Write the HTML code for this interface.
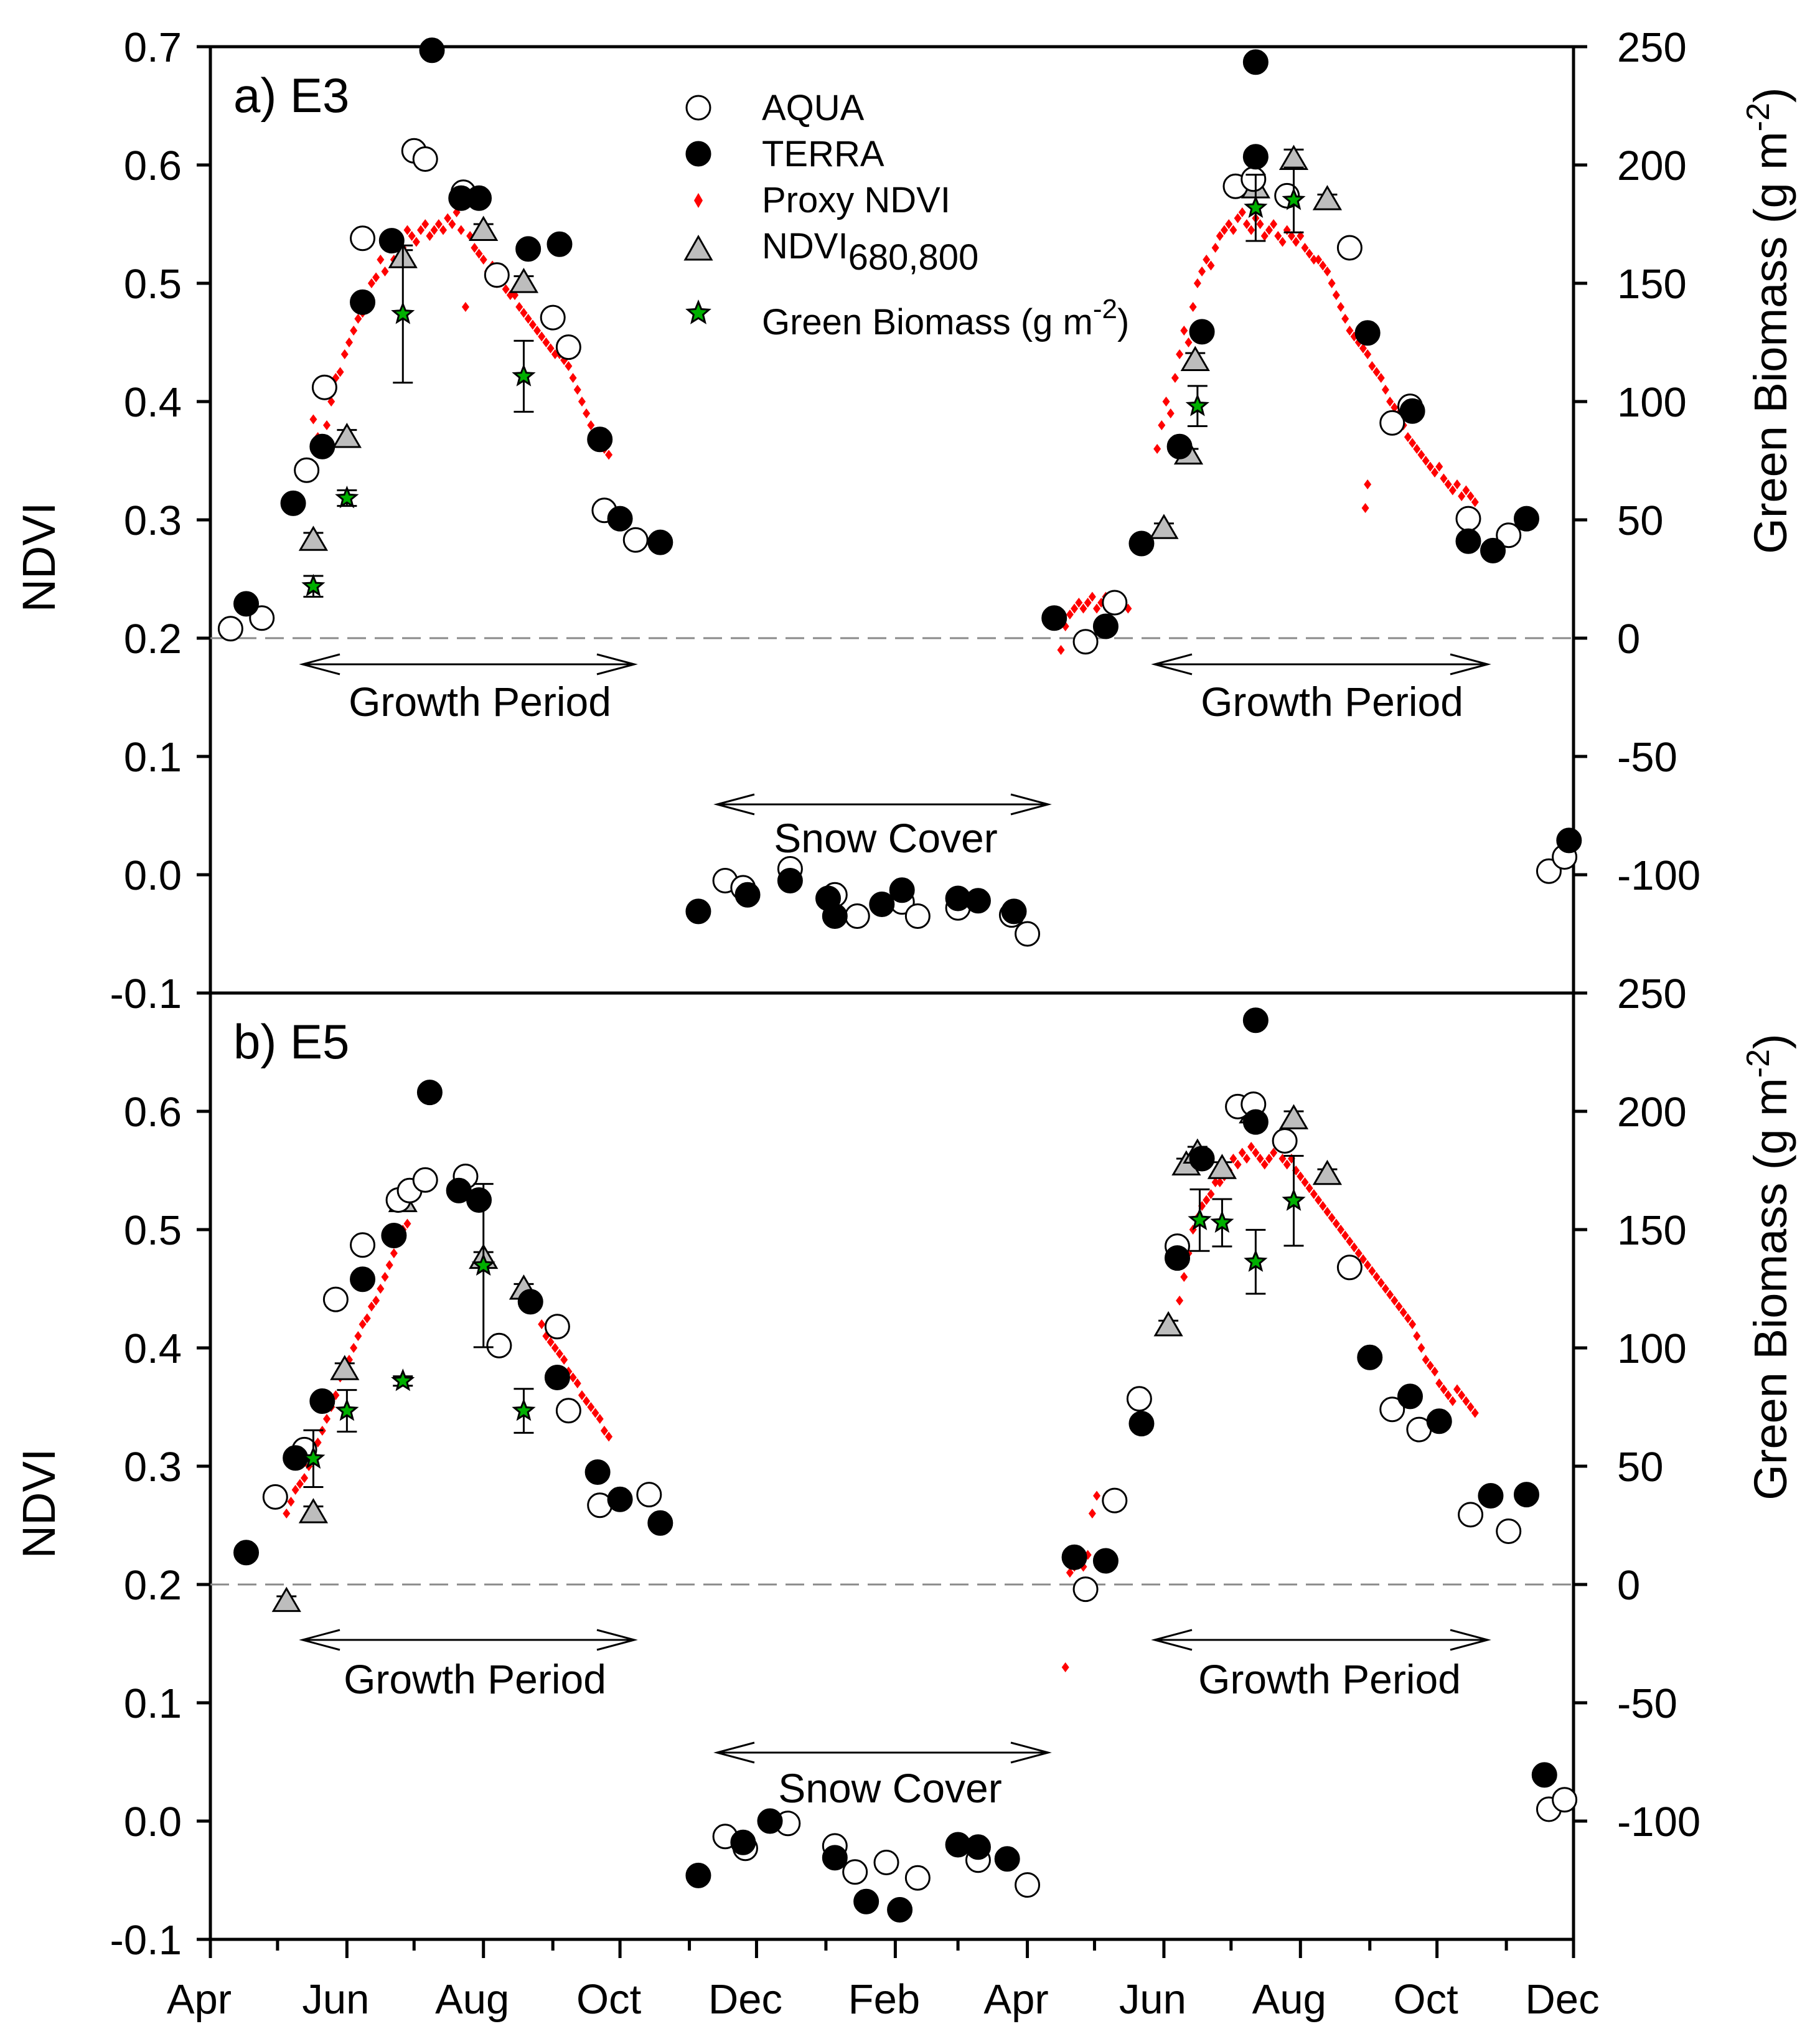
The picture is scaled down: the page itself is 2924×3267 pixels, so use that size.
<!DOCTYPE html>
<html><head><meta charset="utf-8"><style>
html,body{margin:0;padding:0;background:#fff}
svg{display:block;font-family:"Liberation Sans",Arial,sans-serif}
</style></head><body>
<svg id="chart" xmlns="http://www.w3.org/2000/svg" width="2924" height="3267" viewBox="0 0 2924 3267">
<rect width="2924" height="3267" fill="#fff"/>
<g id="frames"></g>
<g id="marks"></g>
<g id="annot"></g>
</svg>
<script>
// ---------- data (x = days since Apr 1 of year 1, y = NDVI, biomass in g m-2) ----------
const monthDays = [0,30,61,91,122,153,183,214,244,275,306,334,365,395,426,456,487,518,548,579,609];
const monthLabels = ["Apr","","Jun","","Aug","","Oct","","Dec","","Feb","","Apr","","Jun","","Aug","","Oct","","Dec"];
const ndviTicks = [0.7,0.6,0.5,0.4,0.3,0.2,0.1,0.0,-0.1];
const ndviTickLabels = ["0.7","0.6","0.5","0.4","0.3","0.2","0.1","0.0","-0.1"];
const bioTicks = [250,200,150,100,50,0,-50,-100];

// Panel a (E3)
const aAquaDay = [9,23,43,51,68,91,96,113,128,153,160,176,190,391,404,458,466,481,509,528,536,562,580,598,605,230,238,259,279,289,309,316,334,358,365];
const aAquaVal = [0.208,0.217,0.342,0.412,0.538,0.612,0.605,0.577,0.507,0.471,0.446,0.308,0.283,0.197,0.230,0.582,0.588,0.574,0.530,0.382,0.396,0.301,0.287,0.003,0.015,-0.005,-0.011,0.005,-0.017,-0.035,-0.023,-0.035,-0.028,-0.034,-0.050];
const aTerraDay = [16,37,50,68,81,99,112,120,142,156,174,183,201,377,400,416,433,443,467,467,517,537,562,573,588,607,218,240,259,276,279,300,309,334,343,359];
const aTerraVal = [0.229,0.314,0.362,0.484,0.536,0.697,0.572,0.572,0.529,0.533,0.368,0.301,0.281,0.217,0.210,0.280,0.362,0.459,0.687,0.607,0.458,0.392,0.282,0.274,0.301,0.029,-0.031,-0.017,-0.005,-0.020,-0.035,-0.025,-0.013,-0.020,-0.022,-0.031];
const aTriDay = [46,61,86,122,140,426,437,440,467,484,499];
const aTriVal = [0.283,0.370,0.522,0.545,0.501,0.293,0.356,0.435,0.581,0.605,0.571];
const aTriErr = [0.006,0.006,0.006,0.005,0.005,0.004,0.004,0.006,0.006,0.008,0.004];
const aBioDay = [46,61,86,140,441,467,484];
const aBioVal = [21.9,59.2,137,110.7,98.1,181.9,185.2];
const aBioErr = [4.4,3.3,29,15,8.5,14,13.7];
const aProxyDay = [46,48,50,52,54,56,58,60,62,64,66,68,70,72,74,76,78,80,82,84,86,88,90,92,94,96,98,100,102,104,106,108,110,112,114,116,118,120,122,124,126,128,130,132,134,136,138,140,142,144,146,148,150,152,154,156,158,160,162,164,166,168,170,172,174,176,178,
380,382,384,386,388,390,392,394,396,398,400,402,404,406,408,410,423,425,427,429,431,433,435,437,439,441,443,445,447,449,451,453,455,457,459,461,463,465,467,469,471,473,475,477,479,481,483,485,487,489,491,493,495,497,499,501,503,505,507,509,511,513,515,517,519,521,523,525,527,529,531,533,535,537,539,541,543,545,547,549,551,553,555,557,559,561,563,565,516,517];
const aProxyVal = [0.385,0.37,0.36,0.38,0.40,0.42,0.425,0.44,0.45,0.46,0.47,0.475,0.49,0.50,0.505,0.52,0.51,0.53,0.52,0.535,0.53,0.545,0.54,0.535,0.545,0.55,0.54,0.545,0.55,0.545,0.555,0.55,0.56,0.545,0.48,0.54,0.53,0.525,0.52,0.51,0.515,0.50,0.505,0.495,0.49,0.49,0.48,0.475,0.47,0.465,0.46,0.455,0.45,0.445,0.44,0.44,0.435,0.43,0.42,0.41,0.40,0.39,0.38,0.37,0.365,0.36,0.355,
0.19,0.21,0.22,0.225,0.23,0.225,0.23,0.235,0.225,0.23,0.235,0.23,0.225,0.235,0.23,0.225,0.36,0.38,0.40,0.39,0.42,0.44,0.46,0.45,0.48,0.50,0.51,0.52,0.515,0.53,0.54,0.545,0.55,0.545,0.555,0.56,0.55,0.545,0.555,0.55,0.54,0.545,0.55,0.54,0.535,0.545,0.54,0.535,0.54,0.53,0.525,0.52,0.52,0.515,0.51,0.50,0.49,0.48,0.47,0.46,0.455,0.45,0.445,0.44,0.43,0.425,0.42,0.41,0.40,0.395,0.39,0.38,0.37,0.365,0.36,0.355,0.35,0.345,0.34,0.345,0.335,0.33,0.325,0.33,0.32,0.325,0.32,0.315,0.31,0.33];

// Panel b (E5)
const bAquaDay = [29,42,56,68,84,89,96,114,129,155,160,174,196,391,404,415,432,459,466,480,509,528,540,563,580,598,605,230,239,258,279,288,302,316,343,365];
const bAquaVal = [0.274,0.314,0.441,0.487,0.525,0.533,0.542,0.545,0.402,0.418,0.347,0.267,0.276,0.196,0.271,0.357,0.486,0.604,0.606,0.575,0.468,0.348,0.331,0.259,0.245,0.010,0.018,-0.013,-0.023,-0.002,-0.021,-0.043,-0.035,-0.048,-0.033,-0.054];
const bTerraDay = [16,38,50,68,82,98,111,120,143,155,173,183,201,386,400,416,432,443,467,467,518,536,549,572,588,596,218,238,250,279,293,308,334,343,356];
const bTerraVal = [0.227,0.307,0.355,0.458,0.495,0.616,0.533,0.525,0.439,0.375,0.295,0.272,0.252,0.223,0.220,0.336,0.476,0.560,0.677,0.591,0.392,0.359,0.338,0.275,0.276,0.039,-0.046,-0.018,0.000,-0.031,-0.068,-0.075,-0.020,-0.022,-0.032];
const bTriDay = [34,46,60,86,122,140,428,436,441,452,466,484,499];
const bTriVal = [0.186,0.261,0.382,0.524,0.476,0.450,0.419,0.555,0.565,0.552,0.599,0.594,0.547];
const bTriErr = [0.004,0.005,0.005,0.005,0.005,0.004,0.004,0.005,0.005,0.005,0.006,0.006,0.004];
const bBioDay = [46,61,86,122,140,442,452,467,484];
const bBioVal = [53.2,73.4,86.0,134.8,73.4,154,152.9,136.4,162.2];
const bBioErr = [12,8.8,2,34.5,9.3,13,10,13.5,19];
const bProxyDay = [34,36,38,40,42,44,46,48,50,52,54,56,58,60,62,64,66,68,70,72,74,76,78,80,82,84,86,88,148,150,152,154,156,158,160,162,164,166,168,170,172,174,176,178,
382,384,386,388,390,392,394,396,398,400,402,433,435,437,439,441,443,445,447,449,451,453,455,457,459,461,463,465,467,469,471,473,475,477,479,481,483,485,487,489,491,493,495,497,499,501,503,505,507,509,511,513,515,517,519,521,523,525,527,529,531,533,535,537,539,541,543,545,547,549,551,553,555,557,559,561,563,565];
const bProxyVal = [0.26,0.27,0.28,0.285,0.29,0.30,0.31,0.32,0.33,0.34,0.35,0.36,0.375,0.385,0.39,0.40,0.41,0.42,0.425,0.435,0.44,0.45,0.46,0.47,0.48,0.49,0.50,0.505,0.42,0.41,0.405,0.40,0.395,0.39,0.38,0.375,0.37,0.36,0.355,0.35,0.345,0.34,0.33,0.325,
0.13,0.21,0.215,0.22,0.215,0.225,0.26,0.275,0.22,0.22,0.215,0.44,0.46,0.48,0.50,0.51,0.52,0.525,0.53,0.54,0.54,0.545,0.55,0.56,0.555,0.565,0.56,0.57,0.565,0.56,0.555,0.56,0.565,0.57,0.56,0.555,0.56,0.55,0.545,0.54,0.535,0.53,0.525,0.52,0.515,0.51,0.505,0.50,0.495,0.49,0.485,0.48,0.475,0.47,0.465,0.46,0.455,0.45,0.445,0.44,0.435,0.43,0.425,0.42,0.41,0.40,0.39,0.385,0.38,0.37,0.365,0.36,0.355,0.365,0.36,0.355,0.35,0.345];

// ---------- scales ----------
const L = 338, R = 2528;
const panels = [{top:75, bottom:1595, name:"a"}, {top:1595, bottom:3115, name:"b"}];
const NS = "http://www.w3.org/2000/svg";
function xs(d){ return L + d*(R-L)/609; }
function ys(v, p){ return p.top + (0.7 - v)*(p.bottom - p.top)/0.8; }
function bioToNdvi(b){ return 0.2 + b/500; }
function mk(tag, attrs, parent){
  const e = document.createElementNS(NS, tag);
  for (const k in attrs) e.setAttribute(k, attrs[k]);
  parent.appendChild(e); return e;
}
const frames = document.getElementById("frames");
const marks = document.getElementById("marks");
const annot = document.getElementById("annot");

// ---------- frames, axes ----------
panels.forEach((p, pi) => {
  const fr = mk("rect", {x:L, y:p.top, width:R-L, height:p.bottom-p.top, fill:"none", stroke:"#000", "stroke-width":5}, frames);
  
  
  const dl = mk("line", {x1:L, x2:R, y1:ys(0.2,p), y2:ys(0.2,p), stroke:"#8a8a8a", "stroke-width":3, "stroke-dasharray":"30 14"}, frames);
  
  
  ndviTicks.forEach((v, i) => {
    const y = ys(v, p);
    const t = mk("line", {x1:L-22, x2:L, y1:y, y2:y, stroke:"#000", "stroke-width":5}, frames);
    
    
    if (pi === 1 && i === 0) return;
    const tx = mk("text", {x:292, y:y+24, "font-size":67, "text-anchor":"end", fill:"#000"}, frames);
    tx.textContent = ndviTickLabels[i];
    
    
  });
  bioTicks.forEach(b => {
    const y = ys(bioToNdvi(b), p);
    const t = mk("line", {x1:R, x2:R+22, y1:y, y2:y, stroke:"#000", "stroke-width":5}, frames);
    
    
    const tx = mk("text", {x:2598, y:y+24, "font-size":67, "text-anchor":"start", fill:"#000"}, frames);
    tx.textContent = String(b);
    
    
  });
  const cy = (p.top + p.bottom)/2 + 60;
  const yt = mk("text", {x:0, y:0, "font-size":74, "text-anchor":"middle", transform:`translate(88 ${cy}) rotate(-90)`}, frames);
  yt.textContent = "NDVI";
  
  
  const rt = mk("text", {x:0, y:0, "font-size":74, "text-anchor":"middle", transform:`translate(2870 ${p.top+440}) rotate(-90)`}, frames);
  rt.innerHTML = 'Green Biomass (g m<tspan dy="-28" font-size="52">-2</tspan><tspan dy="28">)</tspan>';
  
  
  const pl = mk("text", {x:375, y:p.top+105, "font-size":78}, frames);
  pl.textContent = p.name === "a" ? "a) E3" : "b) E5";
  
  
});
monthDays.forEach((d, i) => {
  const x = xs(d), major = i % 2 === 0;
  const t = mk("line", {x1:x, x2:x, y1:3115, y2:3115 + (major ? 30 : 18), stroke:"#000", "stroke-width":5}, frames);
  
  
  if (monthLabels[i]) {
    const tx = mk("text", {x:x-18, y:3234, "font-size":67, "text-anchor":"middle"}, frames);
    tx.textContent = monthLabels[i];
    
    
  }
});

// ---------- marks ----------
function drawProxy(days, vals, p){
  days.forEach((d, i) => {
    const x = xs(d), y = ys(vals[i], p);
    const e = mk("path", {d:`M${x} ${y-8} L${x+6} ${y} L${x} ${y+8} L${x-6} ${y} Z`, fill:"#ff0000"}, marks);
    
    
  });
}
function drawCircles(days, vals, p, filled, name){
  days.forEach((d, i) => {
    const e = mk("circle", {cx:xs(d), cy:ys(vals[i], p), r:19, fill: filled ? "#000" : "#fff", stroke:"#000", "stroke-width":3}, marks);
    
    
  });
}
function errBar(x, v1, v2, p, name){
  const y1 = ys(v1,p), y2 = ys(v2,p);
  const g = mk("path", {d:`M${x} ${y1} V${y2} M${x-16} ${y1} H${x+16} M${x-16} ${y2} H${x+16}`, stroke:"#000", "stroke-width":3, fill:"none"}, marks);
  
  
}
function drawTris(days, vals, errs, p){
  days.forEach((d, i) => {
    const x = xs(d), y = ys(vals[i], p);
    errBar(x, vals[i]-errs[i], vals[i]+errs[i], p, 'ndvi680-error-bar');
    const e = mk("path", {d:`M${x} ${y-20} L${x+21} ${y+16} L${x-21} ${y+16} Z`, fill:"#bdbdbd", stroke:"#000", "stroke-width":3}, marks);
    
    
  });
}
function starPath(cx, cy, ro, ri){
  let s = "";
  for (let k = 0; k < 10; k++) {
    const r = k % 2 ? ri : ro, a = -Math.PI/2 + k*Math.PI/5;
    s += (k ? "L" : "M") + (cx + r*Math.cos(a)).toFixed(1) + " " + (cy + r*Math.sin(a)).toFixed(1);
  }
  return s + "Z";
}
function drawStars(days, vals, errs, p){
  days.forEach((d, i) => {
    const x = xs(d), v = bioToNdvi(vals[i]);
    errBar(x, bioToNdvi(vals[i]-errs[i]), bioToNdvi(vals[i]+errs[i]), p, 'biomass-error-bar');
    const e = mk("path", {d:starPath(x, ys(v,p), 16, 7), fill:"#00b000", stroke:"#000", "stroke-width":3}, marks);
    
    
  });
}
const pa = panels[0], pb = panels[1];
drawProxy(aProxyDay, aProxyVal, pa);
drawProxy(bProxyDay, bProxyVal, pb);
drawTris(aTriDay, aTriVal, aTriErr, pa);
drawTris(bTriDay, bTriVal, bTriErr, pb);
drawCircles(aAquaDay, aAquaVal, pa, false, 'aqua-point');
drawCircles(bAquaDay, bAquaVal, pb, false, 'aqua-point');
drawCircles(aTerraDay, aTerraVal, pa, true, 'terra-point');
drawCircles(bTerraDay, bTerraVal, pb, true, 'terra-point');
drawStars(aBioDay, aBioVal, aBioErr, pa);
drawStars(bBioDay, bBioVal, bBioErr, pb);

// ---------- annotations ----------
function arrow(x1, x2, y, label, lx, ly, name){
  const h = 60, w = 16;
  const a = mk("path", {d:`M${x1} ${y} H${x2} M${x1+h} ${y-w} L${x1} ${y} L${x1+h} ${y+w} M${x2-h} ${y-w} L${x2} ${y} L${x2-h} ${y+w}`, stroke:"#000", "stroke-width":3, fill:"none"}, annot);
  
  
  const t = mk("text", {x:lx, y:ly, "font-size":66, "text-anchor":"middle"}, annot);
  t.textContent = label;
  
  
}
arrow(486, 1019, 1067, "Growth Period", 771, 1150, 'growth-period-a1');
arrow(1855, 2390, 1067, "Growth Period", 2140, 1150, 'growth-period-a2');
arrow(1152, 1684, 1292, "Snow Cover", 1423, 1369, 'snow-cover-a');
arrow(486, 1019, 2634, "Growth Period", 763, 2720, 'growth-period-b1');
arrow(1855, 2390, 2634, "Growth Period", 2136, 2720, 'growth-period-b2');
arrow(1152, 1684, 2815, "Snow Cover", 1430, 2895, 'snow-cover-b');

// ---------- legend ----------
const lg = mk("g", {}, annot);


const c1 = mk("circle", {cx:1122, cy:173, r:19, fill:"#fff", stroke:"#000", "stroke-width":3}, lg);
 
const c2 = mk("circle", {cx:1122, cy:247, r:19, fill:"#000", stroke:"#000", "stroke-width":3}, lg);
 
const c3 = mk("path", {d:"M1122 310 L1129 322 L1122 334 L1115 322 Z", fill:"#ff0000"}, lg);
 
const c4 = mk("path", {d:"M1122 380 L1143 417 L1101 417 Z", fill:"#bdbdbd", stroke:"#000", "stroke-width":3}, lg);
 
const c5 = mk("path", {d:starPath(1122, 503, 18, 8), fill:"#00b000", stroke:"#000", "stroke-width":3}, lg);
 
const lt = [["AQUA",193],["TERRA",267],["Proxy NDVI",341]];
lt.forEach(([s,y]) => {
  const t = mk("text", {x:1224, y:y, "font-size":58}, lg);
  t.textContent = s;
  
  
});
const t4 = mk("text", {x:1224, y:415, "font-size":58}, lg);
t4.innerHTML = 'NDVI<tspan dy="18">680,800</tspan>';


const t5 = mk("text", {x:1224, y:537, "font-size":58}, lg);
t5.innerHTML = 'Green Biomass (g m<tspan dy="-26" font-size="44">-2</tspan><tspan dy="26">)</tspan>';


</script>
</body></html>
